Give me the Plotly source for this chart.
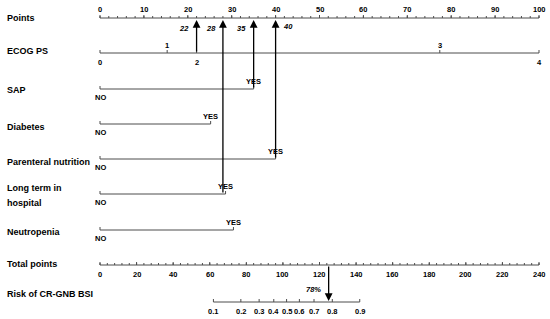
import plotly.graph_objects as go

# nomogram data
points_labels = list(range(0, 101, 10))
points_minor = list(range(0, 101, 2))

ecog_levels = ["0", "1", "2", "3", "4"]
ecog_points = [0, 15.3, 22, 77.4, 100]

binary_vars = ["SAP", "Diabetes", "Parenteral nutrition", "Long term in<br>hospital", "Neutropenia"]
binary_yes_points = [35, 25.2, 40, 28.6, 30.4]

total_labels = list(range(0, 241, 20))
total_minor = list(range(0, 241, 4))
total_max = 240

risk_labels = ["0.1", "0.2", "0.3", "0.4", "0.5", "0.6", "0.7", "0.8", "0.9"]
risk_total_points = [62, 77, 87, 95, 102, 109, 117, 127, 142]

# example patient
chosen_points = [22, 28, 35, 40]
chosen_from_row = [1, 5, 2, 4]
label_side = ["left", "left", "left", "right"]
patient_total = 125
patient_risk = "78%"

# layout rows (pixel rows of the reference)
row_y = [18, 53, 89, 124, 159, 194, 230, 265, 302]
row_names = ["Points", "ECOG PS"] + binary_vars + ["Total points", "Risk of CR-GNB BSI"]
name_y = [18, 51, 90, 127, 162, 196, 232, 264, 294]

FONT = "Liberation Sans, Arial, sans-serif"
LINE = "#4d4d4d"
PX = 439 / 100  # pixels per point


def tp(v):
    # total points -> points scale
    return v * 100 / total_max


fig = go.Figure()
ann = []


def axis_line(x0, x1, y):
    fig.add_trace(go.Scatter(x=[x0, x1], y=[y, y], mode="lines",
                             line=dict(color=LINE, width=1), hoverinfo="skip"))


def ticks(xs, y, up=3, down=0):
    tx, ty = [], []
    for v in xs:
        tx += [v, v, None]
        ty += [y + down, y - up, None]
    fig.add_trace(go.Scatter(x=tx, y=ty, mode="lines",
                             line=dict(color=LINE, width=1), hoverinfo="skip"))


def txt(x, y, s, size=7.5, xanchor="center", italic=False):
    if italic:
        s = "<i>" + s + "</i>"
    ann.append(dict(x=x, y=y, text="<b>" + s + "</b>", showarrow=False,
                    xanchor=xanchor, yanchor="middle",
                    font=dict(family=FONT, size=size, color="black")))


# row names
for name, y in zip(row_names, name_y):
    if "<br>" in name:
        a, b = name.split("<br>")
        txt(-21.7, y - 8, a, size=9, xanchor="left")
        txt(-21.7, y + 7, b, size=9, xanchor="left")
    else:
        txt(-21.7, y, name, size=9, xanchor="left")

# points axis
axis_line(0, 100, row_y[0])
ticks(points_minor, row_y[0], up=2)
ticks(points_labels, row_y[0], up=3)
for v in points_labels:
    txt(v, row_y[0] - 9, str(v))

# ECOG PS
axis_line(0, 100, row_y[1])
ticks(ecog_points, row_y[1], up=3)
for i, (lvl, v) in enumerate(zip(ecog_levels, ecog_points)):
    if i % 2 == 1:
        txt(v, row_y[1] - 8, lvl)
    else:
        txt(v, row_y[1] + 9, lvl)

# binary variables
for v, y in zip(binary_yes_points, row_y[2:7]):
    axis_line(0, v, y)
    ticks([0, v], y, up=3)
    txt(v, y - 8, "YES")
    txt(0, y + 8, "NO")

# total points axis
axis_line(0, tp(total_max), row_y[7])
ticks([tp(v) for v in total_minor], row_y[7], up=2)
ticks([tp(v) for v in total_labels], row_y[7], up=3)
for v in total_labels:
    txt(tp(v), row_y[7] + 9, str(v))

# risk axis
rx = [tp(v) for v in risk_total_points]
axis_line(rx[0], rx[-1], row_y[8])
ticks(rx, row_y[8], up=3)
for s, v in zip(risk_labels, rx):
    txt(v, row_y[8] + 9, s)

# arrows for the example patient
for p, r, side in zip(chosen_points, chosen_from_row, label_side):
    ann.append(dict(x=p, y=row_y[0] + 2, ax=p, ay=row_y[r], axref="x", ayref="y",
                    xref="x", yref="y", text="", showarrow=True, arrowhead=2,
                    arrowsize=1.2, arrowwidth=1.3, arrowcolor="black"))
    if side == "left":
        txt(p - 1.2, row_y[0] + 10, str(p), xanchor="right", italic=True)
    else:
        txt(p + 1.2, row_y[0] + 8, str(p), xanchor="left", italic=True)

ann.append(dict(x=tp(patient_total), y=row_y[8] - 1, ax=tp(patient_total), ay=row_y[7],
                axref="x", ayref="y", xref="x", yref="y", text="", showarrow=True,
                arrowhead=2, arrowsize=1.2, arrowwidth=1.3, arrowcolor="black"))
txt(tp(patient_total) - 1.2, row_y[8] - 13, patient_risk, xanchor="right", italic=True)

fig.update_layout(
    width=550, height=319,
    margin=dict(l=0, r=0, t=0, b=0),
    paper_bgcolor="white", plot_bgcolor="white",
    showlegend=False,
    xaxis=dict(visible=False, range=[-100 / PX, 100 + 11 / PX]),
    yaxis=dict(visible=False, range=[319, 0]),
    annotations=ann,
)

# drop the page's default body margin so the figure sits at the corner
fig.write_html("out.html", config={"displayModeBar": False},
               post_script="document.body.style.margin='0';")
